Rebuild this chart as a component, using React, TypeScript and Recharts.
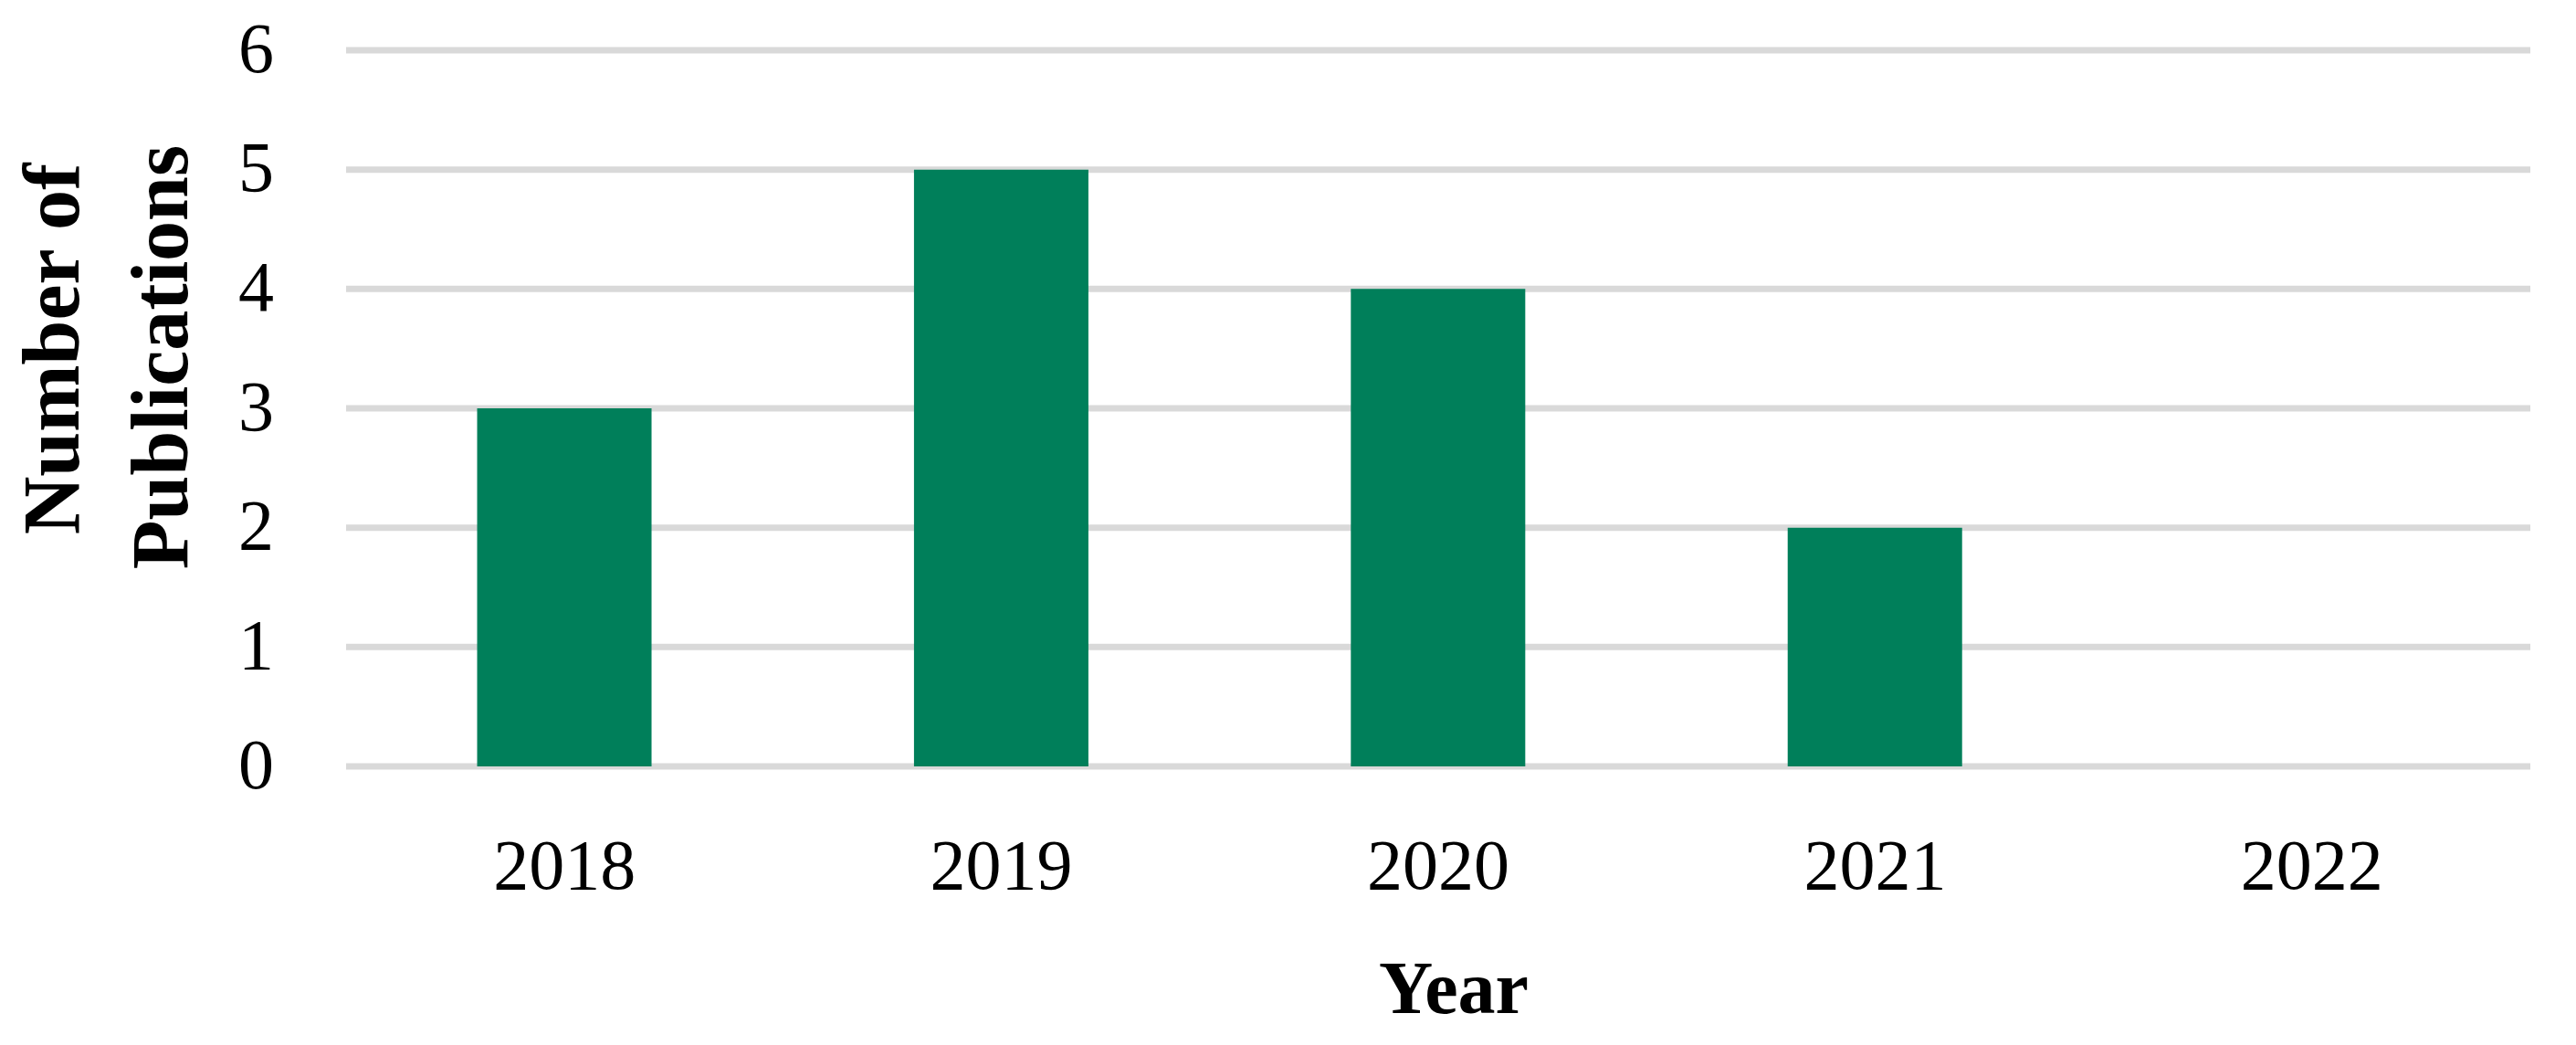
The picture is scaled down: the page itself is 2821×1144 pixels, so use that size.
import { Bar, BarChart, CartesianGrid, Label, XAxis, YAxis } from "recharts";

const years = ["2018", "2019", "2020", "2021", "2022"];
const publications = [3, 5, 4, 2, 0];
const yTicks = [0, 1, 2, 3, 4, 5, 6];

const data = years.map((year, i) => ({ year, count: publications[i] }));

const font = "'Liberation Serif', 'Times New Roman', serif";

const YTitle = (props: any) => {
  const { viewBox } = props;
  const cy1 = viewBox.y + 327;
  const cy2 = viewBox.y + 336;
  return (
    <g fontFamily={font} fontWeight="bold" fontSize={88} fill="#000">
      <text x={86} y={cy1} textAnchor="middle" transform={`rotate(-90, 86, ${cy1})`}>
        Number of
      </text>
      <text x={205} y={cy2} textAnchor="middle" transform={`rotate(-90, 205, ${cy2})`}>
        Publications
      </text>
    </g>
  );
};

const XTitle = (props: any) => {
  const { viewBox } = props;
  const cx = viewBox.x + viewBox.width / 2 + 17;
  return (
    <text x={cx} y={viewBox.y + 270} textAnchor="middle" fontFamily={font} fontWeight="bold" fontSize={82} fill="#000">
      Year
    </text>
  );
};

const App = () => {
  return (
    <div style={{ position: "absolute", left: 0, top: 0, background: "#fff" }}>
      <BarChart
        width={2821}
        height={1144}
        data={data}
        margin={{ top: 55, right: 50, bottom: 0, left: 0 }}
        barCategoryGap="30%"
      >
        <CartesianGrid vertical={false} stroke="#D9D9D9" strokeWidth={7} />
        <XAxis
          dataKey="year"
          height={305}
          axisLine={false}
          tickLine={false}
          tickSize={0}
          tickMargin={79}
          tick={{ fontFamily: font, fontSize: 78, fill: "#000" }}
        >
          <Label content={XTitle} />
        </XAxis>
        <YAxis
          width={379}
          domain={[0, 6]}
          ticks={yTicks}
          interval={0}
          axisLine={false}
          tickLine={false}
          tickSize={0}
          tickMargin={79}
          tick={{ fontFamily: font, fontSize: 78, fill: "#000", dy: -4 }}
        >
          <Label content={YTitle} />
        </YAxis>
        <Bar dataKey="count" fill="#007F5A" isAnimationActive={false} />
      </BarChart>
    </div>
  );
};

export default App;
